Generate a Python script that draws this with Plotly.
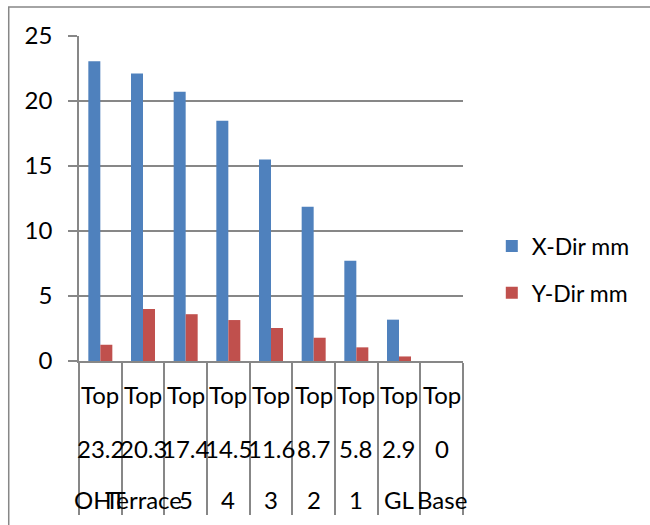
import plotly.graph_objects as go

# ---- data ----
row1 = ["Top"] * 9
row2 = ["23.2", "20.3", "17.4", "14.5", "11.6", "8.7", "5.8", "2.9", "0"]
row3 = ["OHT", "Terrace", "5", "4", "3", "2", "1", "GL", "Base"]
categories = [f"{a} {b} {c}" for a, b, c in zip(row1, row2, row3)]
x_dir = [23.05, 22.12, 20.72, 18.48, 15.5, 11.87, 7.72, 3.18, 0]
y_dir = [1.25, 4.0, 3.6, 3.15, 2.54, 1.79, 1.05, 0.35, 0]
y_ticks = [0, 5, 10, 15, 20, 25]

FONT = "Lato, Carlito, Calibri, sans-serif"
GRAY = "#878787"

fig = go.Figure()
fig.add_trace(go.Bar(x=categories, y=x_dir, name="X-Dir mm",
                     marker=dict(color="#4F81BD", line=dict(width=0)),
                     legendgroup="a"))
fig.add_trace(go.Bar(x=categories, y=y_dir, name="Y-Dir mm",
                     marker=dict(color="#C0504D", line=dict(width=0)),
                     legendgroup="b"))

# multi-level category labels
for cat, a, b, c in zip(categories, row1, row2, row3):
    for txt, yy in ((a, -0.1046), (b, -0.268), (c, -0.425)):
        fig.add_annotation(x=cat, y=yy, xref="x", yref="paper", text=txt,
                           showarrow=False, xanchor="center", yanchor="middle",
                           font=dict(family=FONT, size=24, color="#000000"))

# outer chart border (left & top visible)
fig.add_shape(type="rect", xref="paper", yref="paper",
              x0=-0.183, x1=2.0, y0=-1.0, y1=1.089,
              line=dict(color=GRAY, width=1.5), layer="below")

fig.update_layout(
    template="none",
    width=650, height=525,
    margin=dict(l=79, r=187, t=36, b=164, pad=0),
    paper_bgcolor="white", plot_bgcolor="white",
    barmode="group", bargap=0.4375, bargroupgap=0,
    font=dict(family=FONT, size=24, color="#000000"),
    legend=dict(x=1.075, y=0.2815, xanchor="left", yanchor="middle",
                font=dict(family=FONT, size=23, color="#000000"),
                traceorder="grouped", tracegroupgap=14,
                bgcolor="rgba(0,0,0,0)", borderwidth=0),
    xaxis=dict(type="category", range=[-0.5, 8.5], automargin=False,
               showticklabels=False, showgrid=False,
               ticks="outside", tickson="boundaries", ticklen=152,
               tickcolor=GRAY, tickwidth=1.5,
               showline=True, linecolor=GRAY, linewidth=1.5,
               zeroline=False),
    yaxis=dict(range=[0, 25], tickvals=y_ticks, automargin=False,
               showgrid=True, gridcolor=GRAY, gridwidth=1.5,
               ticks="outside", ticklen=9, tickcolor=GRAY, tickwidth=1.5,
               showline=True, linecolor=GRAY, linewidth=1.5,
               zeroline=False, ticklabelstandoff=11,
               tickfont=dict(family=FONT, size=24, color="#000000")),
)

fig.write_html("out.html")
